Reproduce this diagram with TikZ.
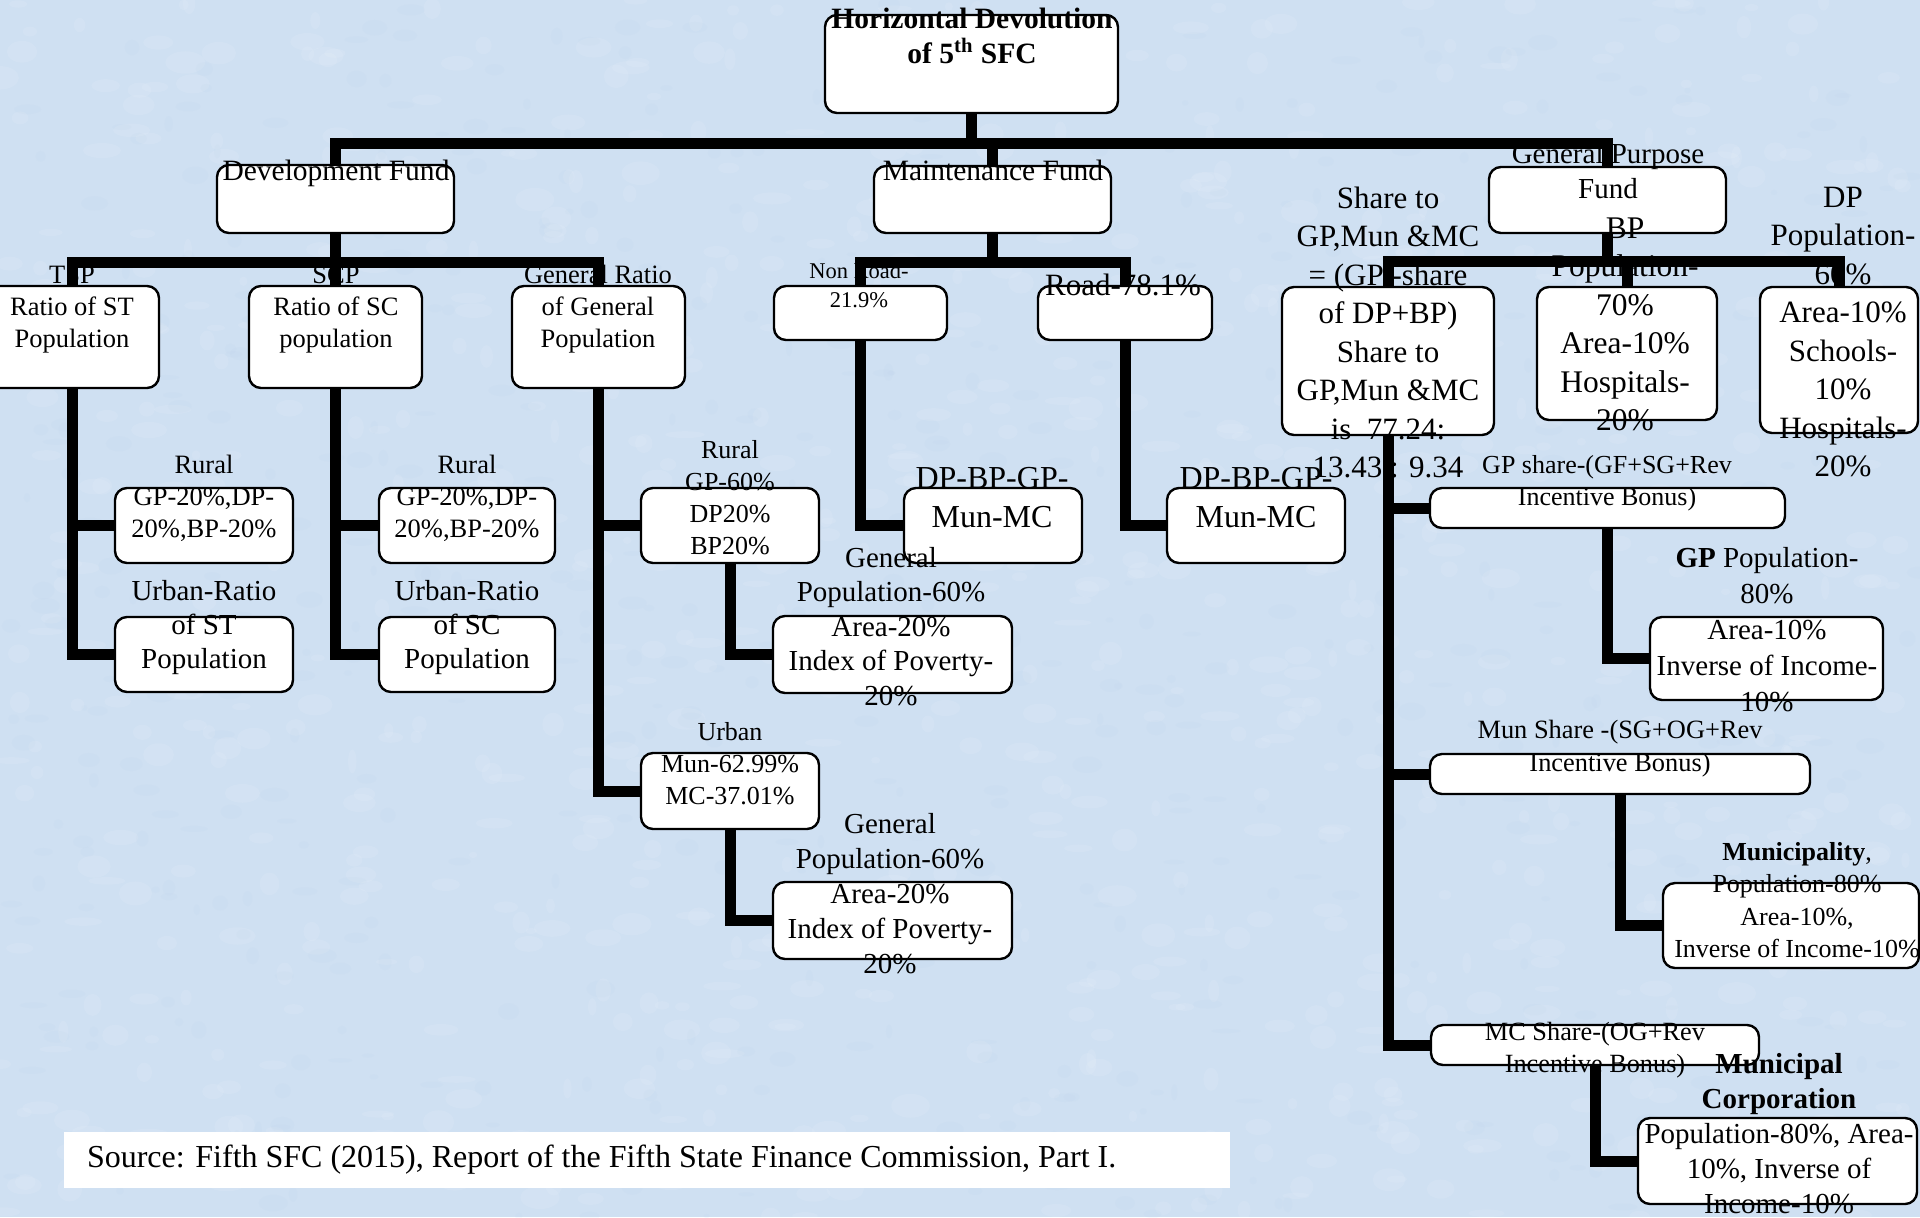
\documentclass[tikz,border=0pt]{standalone}
\usepackage{fontspec}
\setmainfont{Liberation Serif}
\usetikzlibrary{fit}
\definecolor{bgblue}{RGB}{207,224,242}
\definecolor{bgdark}{RGB}{180,203,230}
\newcommand{\mlines}[4][]{{\fontsize{#2}{#3}\selectfont#1\begin{tabular}[t]{@{}c@{}}#4\end{tabular}}}
\tikzset{
  boxfill/.style={fill=white, draw=none, inner sep=0pt, outer sep=0pt, rounded corners=6pt},
  boxline/.style={draw=black, line width=1.2pt, rounded corners=6pt},
  conn/.style={draw=black, line width=5.5pt, line join=miter},
  txt/.style={inner sep=0pt, outer sep=0pt, anchor=base},
}
\begin{document}
\begin{tikzpicture}[x=0.5pt,y=-0.5pt]
\useasboundingbox (0,0) rectangle (1920,1217);
\fill[bgblue] (0,0) rectangle (1920,1217);
% ---- fine mottled background texture
\begin{scope}
\clip (0,0) rectangle (1920,1217);
\pgfmathsetseed{11}
\foreach \i in {1,...,900}{
  \pgfmathsetmacro{\rx}{rnd*1920}
  \pgfmathsetmacro{\ry}{rnd*1217}
  \pgfmathsetmacro{\ra}{4+rnd*16}
  \pgfmathsetmacro{\rb}{3+rnd*9}
  \fill[white, opacity=0.09] (\rx,\ry) ellipse ({\ra} and {\rb});
}
\foreach \i in {1,...,600}{
  \pgfmathsetmacro{\rx}{rnd*1920}
  \pgfmathsetmacro{\ry}{rnd*1217}
  \pgfmathsetmacro{\ra}{3+rnd*12}
  \pgfmathsetmacro{\rb}{2+rnd*7}
  \fill[bgdark, opacity=0.08] (\rx,\ry) ellipse ({\ra} and {\rb});
}
\end{scope}

% ---- box fills
\node[boxfill, fit={(825,15) (1118,113)}] (title) {};
\node[boxfill, fit={(217,165) (454,233)}] (dev) {};
\node[boxfill, fit={(874,166) (1111,233)}] (mf) {};
\node[boxfill, fit={(1489,167) (1726,233)}] (gpf) {};
\node[boxfill, fit={(-14,286) (159,388)}] (tsp) {};
\node[boxfill, fit={(249,286) (422,388)}] (scp) {};
\node[boxfill, fit={(512,286) (685,388)}] (gen) {};
\node[boxfill, fit={(774,286) (947,340)}] (nonroad) {};
\node[boxfill, fit={(1038,286) (1212,340)}] (road) {};
\node[boxfill, fit={(1282,287) (1494,435)}] (share) {};
\node[boxfill, fit={(1537,287) (1717,420)}] (bp) {};
\node[boxfill, fit={(1760,287) (1918,433)}] (dp) {};
\node[boxfill, fit={(115,488) (293,563)}] (tspr) {};
\node[boxfill, fit={(115,617) (293,692)}] (tspu) {};
\node[boxfill, fit={(379,488) (555,563)}] (scpr) {};
\node[boxfill, fit={(379,617) (555,692)}] (scpu) {};
\node[boxfill, fit={(641,488) (819,563)}] (genr) {};
\node[boxfill, fit={(773,616) (1012,693)}] (genrb) {};
\node[boxfill, fit={(641,753) (819,829)}] (genu) {};
\node[boxfill, fit={(773,882) (1012,959)}] (genub) {};
\node[boxfill, fit={(904,488) (1082,563)}] (mmca) {};
\node[boxfill, fit={(1167,488) (1345,563)}] (mmcb) {};
\node[boxfill, fit={(1430,488) (1785,528)}] (gpsh) {};
\node[boxfill, fit={(1650,617) (1883,700)}] (gpb) {};
\node[boxfill, fit={(1430,754) (1810,794)}] (munsh) {};
\node[boxfill, fit={(1663,883) (1919,968)}] (munb) {};
\node[boxfill, fit={(1431,1025) (1759,1065)}] (mcsh) {};
\node[boxfill, fit={(1638,1118) (1917,1204)}] (mcb) {};
\node[fill=white, inner sep=0pt, fit={(64,1132) (1230,1188)}] (src) {};

% ---- texts
\node[txt] (tTitle) at (972,28) {\mlines[\bfseries]{14.75}{17.5}{Horizontal Devolution\\of 5\textsuperscript{th} SFC}};
\node[txt] (tDev) at (336,180) {\mlines{14.75}{17.5}{Development Fund}};
\node[txt] (tMf) at (993,180) {\mlines{14.75}{17.5}{Maintenance Fund}};
\node[txt] (tGpf) at (1608,163) {\mlines{14.5}{17.5}{General Purpose\\Fund}};
\node[txt] (tBp) at (1625,238) {\mlines{15.75}{19.25}{BP\\Population-\\70\%\\Area-10\%\\Hospitals-\\20\%}};
\node[txt] (tShare) at (1388,208) {\mlines{15.5}{19.25}{Share to\\GP,Mun \&MC\\= (GP -share\\of DP+BP)\\Share to\\GP,Mun \&MC\\is\ \ 77.24:\\13.43 : 9.34}};
\node[txt] (tDp) at (1843,207) {\mlines{15.5}{19.25}{DP\\Population-\\60\%\\Area-10\%\\Schools-\\10\%\\Hospitals-\\20\%}};
\node[txt] (tTsp) at (72,283) {\mlines{13.25}{16}{TSP\\Ratio of ST\\Population}};
\node[txt] (tScp) at (336,283) {\mlines{13.25}{16}{SCP\\Ratio of SC\\population}};
\node[txt] (tGen) at (598,283) {\mlines{13.25}{16}{General Ratio\\of General\\Population}};
\node[txt] (tNonroad) at (859,278) {\mlines{11.25}{14.5}{Non Road-\\21.9\%}};
\node[txt] (tRoad) at (1123,295) {\mlines{15.5}{19}{Road-78.1\%}};
\node[txt] (tTspr) at (204,473) {\mlines{13.25}{16}{Rural\\GP-20\%,DP-\\20\%,BP-20\%}};
\node[txt] (tTspu) at (204,600) {\mlines{14.5}{17}{Urban-Ratio\\of ST\\Population}};
\node[txt] (tScpr) at (467,473) {\mlines{13.25}{16}{Rural\\GP-20\%,DP-\\20\%,BP-20\%}};
\node[txt] (tScpu) at (467,600) {\mlines{14.5}{17}{Urban-Ratio\\of SC\\Population}};
\node[txt] (tGenr) at (730,458) {\mlines{13}{16}{Rural\\GP-60\%\\DP20\%\\BP20\%}};
\node[txt] (tGenrb) at (891,567) {\mlines{14.5}{17.25}{General\\Population-60\%\\Area-20\%\\Index of Poverty-\\20\%}};
\node[txt] (tGenu) at (730,740) {\mlines{13}{16}{Urban\\Mun-62.99\%\\MC-37.01\%}};
\node[txt] (tGenub) at (890,833) {\mlines{14.5}{17.5}{General\\Population-60\%\\Area-20\%\\Index of Poverty-\\20\%}};
\node[txt] (tMmca) at (992,488) {\mlines{16}{19.5}{DP-BP-GP-\\Mun-MC}};
\node[txt] (tMmcb) at (1256,488) {\mlines{16}{19.5}{DP-BP-GP-\\Mun-MC}};
\node[txt] (tGpsh) at (1607,473) {\mlines{13}{16}{GP share-(GF+SG+Rev\\Incentive Bonus)}};
\node[txt] (tGpb) at (1767,567) {\mlines{14.5}{18}{\textbf{GP} Population-\\80\%\\Area-10\%\\Inverse of Income-\\10\%}};
\node[txt] (tMunsh) at (1620,738) {\mlines{13.2}{16.5}{Mun Share -(SG+OG+Rev\\Incentive Bonus)}};
\node[txt] (tMunb) at (1797,860) {\mlines{13}{16.3}{\textbf{Municipality},\\Population-80\%\\Area-10\%,\\Inverse of Income-10\%}};
\node[txt] (tMcsh) at (1595,1040) {\mlines{13.15}{16}{MC Share-(OG+Rev\\Incentive Bonus)}};
\node[txt] (tMcb) at (1779,1073) {\mlines{14.5}{17.5}{\textbf{Municipal}\\\textbf{Corporation}\\Population-80\%, Area-\\10\%, Inverse of\\Income-10\%}};
\node[txt, anchor=base west] (tSrc) at (87,1167) {\fontsize{16}{19}\selectfont Source: Fifth SFC (2015), Report of the Fifth State Finance Commission, Part I.};

% ---- box borders
\foreach \n in {title,dev,mf,gpf,tsp,scp,gen,nonroad,road,share,bp,dp,tspr,tspu,scpr,scpu,genr,genrb,genu,genub,mmca,mmcb,gpsh,gpb,munsh,munb,mcsh,mcb}
  {\draw[boxline] (\n.south west) rectangle (\n.north east);}

% ---- connectors
\coordinate (tb) at (971.5,143.5);
\draw[conn] (title.south) -- (tb);
\draw[conn] (dev.north) |- (tb) -| (gpf.north);
\draw[conn] (mf.north) -- (mf.north |- tb);

\coordinate (db) at (335.5,262);
\draw[conn] (dev.south) -- (scp.north);
\draw[conn] (tsp.north) |- (db) -| (gen.north);

\coordinate (mb) at (992.5,262);
\draw[conn] (mf.south) -- (mb);
\draw[conn] (nonroad.north) |- (mb) -| (road.north);

\coordinate (gb) at (1607.5,261);
\draw[conn] (gpf.south) -- (gb);
\draw[conn] (share.north) |- (gb) -| (dp.north);
\draw[conn] (bp.north) -- (bp.north |- gb);

\draw[conn] (tsp.south) |- (tspu.west);
\draw[conn] (tsp.south |- tspr.west) -- (tspr.west);
\draw[conn] (scp.south) |- (scpu.west);
\draw[conn] (scp.south |- scpr.west) -- (scpr.west);
\draw[conn] (gen.south) |- (genu.west);
\draw[conn] (gen.south |- genr.west) -- (genr.west);
\draw[conn] (genr.south) |- (genrb.west);
\draw[conn] (genu.south) |- (genub.west);
\draw[conn] (nonroad.south) |- (mmca.west);
\draw[conn] (road.south) |- (mmcb.west);

\draw[conn] (share.south) |- (mcsh.west);
\draw[conn] (share.south |- gpsh.west) -- (gpsh.west);
\draw[conn] (share.south |- munsh.west) -- (munsh.west);
\draw[conn] (gpsh.south) |- (gpb.west);
\draw[conn] (munsh.south) |- (munb.west);
\draw[conn] (mcsh.south) |- (mcb.west);
\end{tikzpicture}
\end{document}
